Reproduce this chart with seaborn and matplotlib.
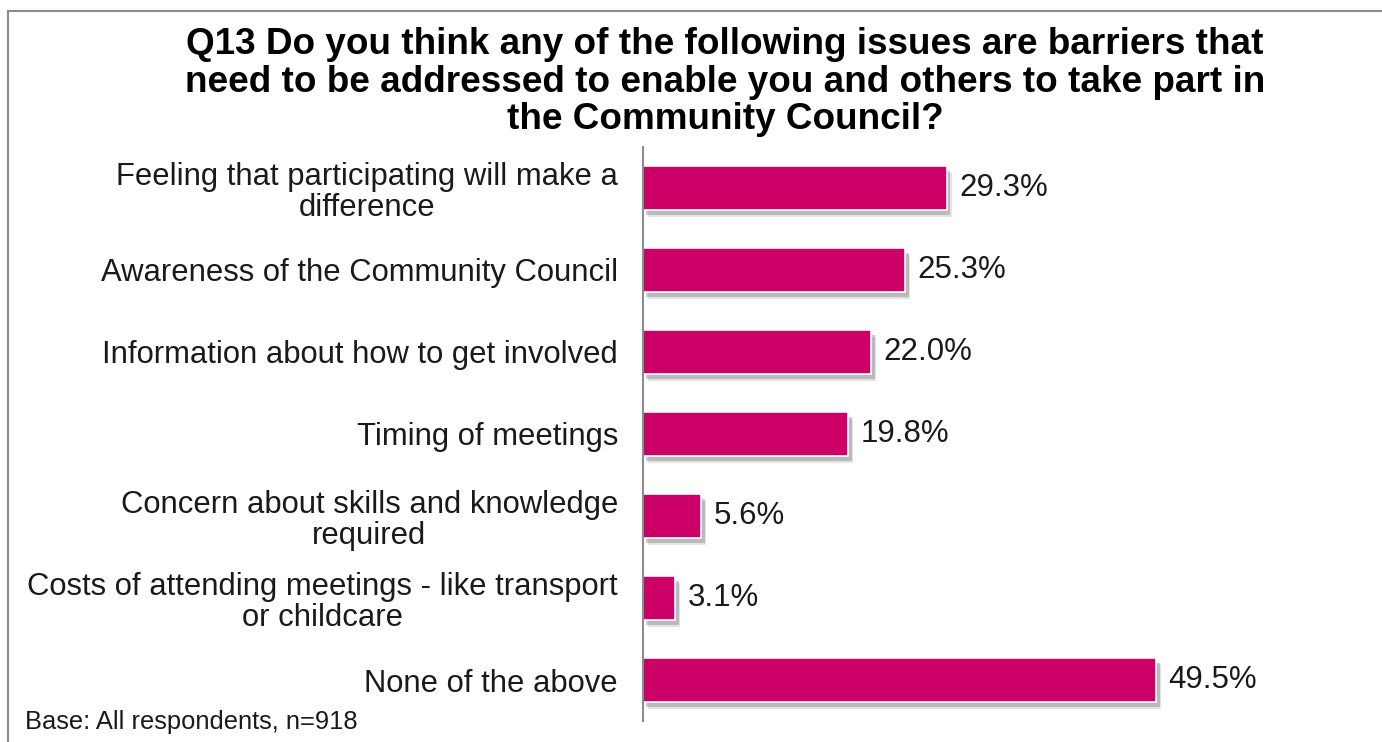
import matplotlib
matplotlib.use("Agg")
import matplotlib.pyplot as plt
import matplotlib.patheffects as pe
from matplotlib.patches import Rectangle
import seaborn as sns
import pandas as pd

categories = [
    "Feeling that participating will make a\ndifference",
    "Awareness of the Community Council",
    "Information about how to get involved",
    "Timing of meetings",
    "Concern about skills and knowledge\nrequired",
    "Costs of attending meetings - like transport\nor childcare",
    "None of the above",
]
values = [29.3, 25.3, 22.0, 19.8, 5.6, 3.1, 49.5]
value_labels = ["29.3%", "25.3%", "22.0%", "19.8%", "5.6%", "3.1%", "49.5%"]

title = ("Q13 Do you think any of the following issues are barriers that\n"
         "need to be addressed to enable you and others to take part in\n"
         "the Community Council?")
footnote = "Base: All respondents, n=918"

sns.set_theme(style="white")
plt.rcParams["font.family"] = ["Liberation Sans", "DejaVu Sans"]

W, H = 1382, 742
fig = plt.figure(figsize=(W / 100, H / 100), dpi=100)
fig.patch.set_facecolor("white")

# outer frame (top and left edges visible)
fig.patches.append(Rectangle((8 / W, -0.05), 1.1, (H - 11) / H + 0.05,
                             transform=fig.transFigure, fill=False,
                             edgecolor="#8c8c8c", linewidth=1.5))

ax = fig.add_axes([643 / W, 1 - 721 / H, 622 / W, 574 / H])
df = pd.DataFrame({"category": categories, "value": values})
sns.barplot(data=df, x="value", y="category", color="#CC0066", saturation=1,
            width=0.54, edgecolor="white", linewidth=1.2, ax=ax)

# soft drop shadow under each bar
for bar in ax.patches:
    bar.set_path_effects([
        pe.SimplePatchShadow(offset=(3.5, -5), shadow_rgbFace="#b0b0b0", alpha=0.35),
        pe.SimplePatchShadow(offset=(2.5, -3.5), shadow_rgbFace="#8a8a8a", alpha=0.45),
        pe.Normal(),
    ])

for i, (v, lab) in enumerate(zip(values, value_labels)):
    ax.annotate(lab, (v, i), xytext=(9, 0), textcoords="offset points",
                va="center", ha="left", fontsize=22.5, color="#1a1a1a")

ax.set_xlim(0, 60)
ax.set_ylim(len(categories) - 0.5, -0.5)
ax.set_xlabel("")
ax.set_ylabel("")
ax.set_xticks([])
for s in ["top", "right", "bottom"]:
    ax.spines[s].set_visible(False)
ax.spines["left"].set_color("#8c8c8c")
ax.spines["left"].set_linewidth(1.5)
ax.tick_params(axis="y", length=0, pad=18, labelsize=22.3, labelcolor="#1a1a1a")
for t in ax.get_yticklabels():
    t.set_multialignment("center")
    t.set_linespacing(1.05)

fig.text(725 / W, 1 - 82 / H, title, ha="center", va="center", fontsize=26.6,
         fontweight="bold", color="black", linespacing=1.1)
fig.text(25 / W, 1 - 722 / H, footnote, ha="left", va="center", fontsize=18.4,
         color="#1a1a1a")

fig.savefig("out.png", dpi=100, facecolor="white")
